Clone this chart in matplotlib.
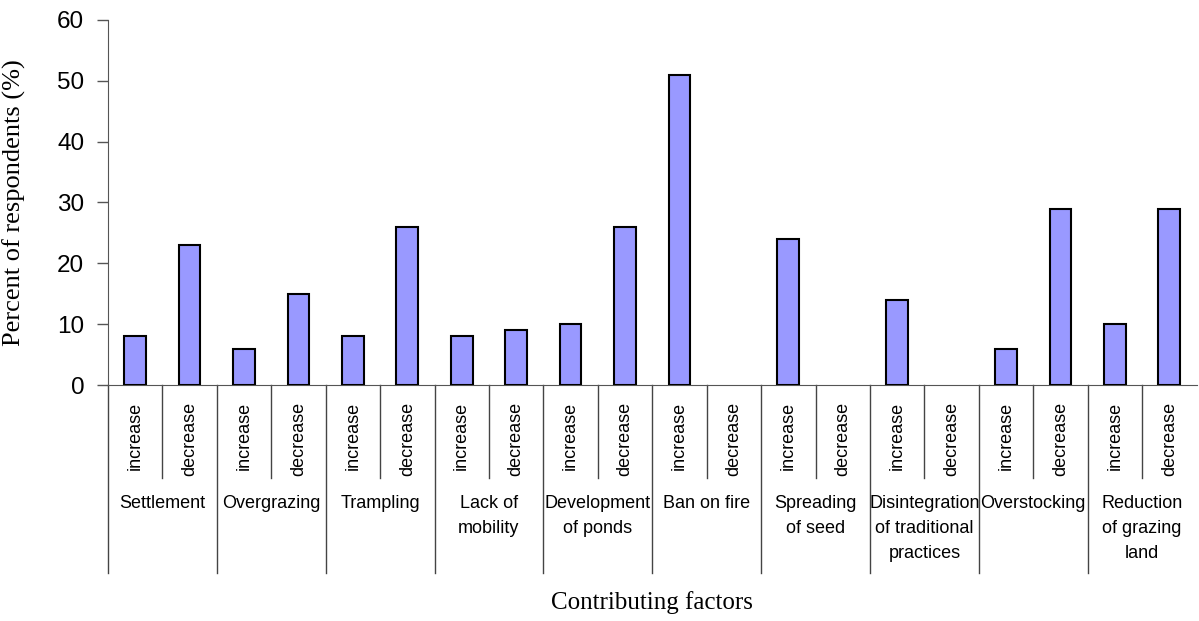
import numpy as np
import matplotlib.pyplot as plt

factors = ['Settlement', 'Overgrazing', 'Trampling', 'Lack of\nmobility',
           'Development\nof ponds', 'Ban on fire', 'Spreading\nof seed',
           'Disintegration\nof traditional\npractices', 'Overstocking',
           'Reduction\nof grazing\nland']
changes = ['increase', 'decrease']
increase = [8, 6, 8, 8, 10, 51, 24, 14, 6, 10]
decrease = [23, 15, 26, 9, 26, 0, 0, 0, 29, 29]

values = np.column_stack([increase, decrease]).ravel()
n = len(values)
x = np.arange(n) + 0.5

fig = plt.figure(figsize=(11.99, 6.21), dpi=100)
ax = fig.add_axes([0.090, 0.380, 0.908, 0.588])

# no outline on empty (zero) bars
edges = ['black' if v > 0 else 'none' for v in values]
ax.bar(x, values, width=0.40, color='#9999FF', edgecolor=edges, linewidth=1.5, zorder=3)

ax.set_xlim(0, n)
ax.set_ylim(0, 60)
ax.set_yticks(range(0, 61, 10))
ax.tick_params(axis='y', direction='out', length=8, width=1, color='#555555', pad=9)
for lbl in ax.get_yticklabels():
    lbl.set_fontfamily('Liberation Sans')
    lbl.set_fontsize(17.5)
ax.set_xticks([])

for side in ['top', 'right']:
    ax.spines[side].set_visible(False)
ax.spines['left'].set_color('#555555')
ax.spines['bottom'].set_color('#555555')

# category separators below the axis
tr = ax.get_xaxis_transform()
for i in range(n + 1):
    if i % 2 == 1:
        ax.plot([i, i], [0, -0.255], transform=tr, color='#444444', lw=1, clip_on=False)
    elif i < n:
        ax.plot([i, i], [0, -0.515], transform=tr, color='#444444', lw=1, clip_on=False)

for i in range(n):
    ax.text(x[i], -0.045, changes[i % 2], transform=tr, rotation=90, ha='center', va='top',
            fontsize=13, family='Liberation Sans')

for k, name in enumerate(factors):
    ax.text(2 * k + 1, -0.300, name, transform=tr, ha='center', va='top',
            fontsize=13, family='Liberation Sans', linespacing=1.65)

ax.set_ylabel('Percent of respondents (%)', family='Liberation Serif', fontsize=19)
ax.yaxis.set_label_coords(-0.075, 0.5)
ax.text(0.5, -0.595, 'Contributing factors', transform=ax.transAxes, ha='center', va='center',
        family='Liberation Serif', fontsize=18)

fig.savefig('out.png', dpi=100)
